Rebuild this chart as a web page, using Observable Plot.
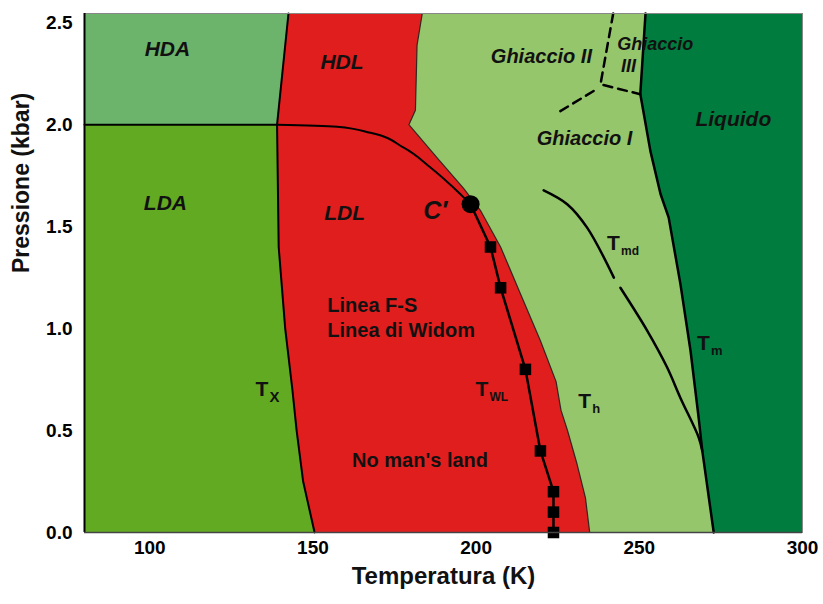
<!DOCTYPE html>
<html><head><meta charset="utf-8">
<script src="https://cdn.jsdelivr.net/npm/d3@7"></script>
<script src="https://cdn.jsdelivr.net/npm/@observablehq/plot@0.6"></script>
<style>body{margin:0;background:#fff;} #chart svg{display:block;}</style>
</head><body><div id="chart"></div>
<script>
// ---- data (Temperature K, Pressure kbar) ----
const xTicks = [100, 150, 200, 250, 300];
const yTicks = [0, 0.5, 1.0, 1.5, 2.0, 2.5];
const T_MIN = 80, T_MAX = 300, P_MAX = 2.545;

// T_X (crystallisation of amorphous ice), bottom -> top
const txLine = [[150.5,0],[147,0.25],[145,0.5],[143.7,0.7],[141.5,1.0],[139.5,1.4],[139,2.0],[142.5,P_MAX]];
// HDA/LDA and HDL/LDL coexistence line, ending at C'
const coexLine = [[80,2.0],[139,2.0],[157.4,1.99],[167.6,1.96],[177.8,1.887],[186,1.79],[195.2,1.659],[198.3,1.61]];
// second critical point C'
const criticalPoint = [[198.3,1.61]];
// Widom line T_WL
const widomLine = [[198.3,1.61],[204.4,1.40],[207.5,1.20],[215.1,0.80],[219.7,0.40],[223.7,0.2],[223.7,0.1],[223.7,0.0]];
const widomPoints = [[204.4,1.40],[207.5,1.20],[215.1,0.80],[219.7,0.40],[223.7,0.2],[223.7,0.1],[223.7,0.0]];
// T_H homogeneous nucleation boundary, top -> bottom
const thLine = [[183.5,P_MAX],[181.9,2.39],[181.4,2.07],[179.4,2.0],[188,1.838],[196.1,1.689],[201.3,1.58],[207.5,1.40],[213.6,1.17],[219.7,0.94],[224.5,0.74],[226,0.6],[228,0.5],[230.9,0.337],[233.5,0.17],[234.8,0]];
// T_M melting line, top -> bottom
const tmLine = [[251.9,P_MAX],[250.3,2.15],[253.4,1.87],[256.5,1.66],[259,1.544],[262.6,1.218],[265.7,0.89],[268.2,0.56],[269.3,0.40],[272.8,0]];
// T_MD maximum density line (two pieces)
const tmdLine1 = [[220.7,1.678],[227.9,1.61],[234,1.495],[242.2,1.25]];
const tmdLine2 = [[244.2,1.20],[252.4,0.99],[258.5,0.81],[262.6,0.66],[268.2,0.466],[269.3,0.40]];
// dashed ice I / II / III boundaries
const iceDash1 = [[242,P_MAX],[238.1,2.198],[250.3,2.149]];
const iceDash2 = [[236,2.165],[225.8,2.066]];

// region labels
const italicLabels = [
  {text:"HDA", T:105.4, P:2.371, size:21},
  {text:"HDL", T:158.9, P:2.304, size:21},
  {text:"LDA", T:104.8, P:1.615, size:21},
  {text:"LDL", T:159.7, P:1.567, size:21},
  {text:"Ghiaccio II", T:220, P:2.332, size:20},
  {text:"Ghiaccio", T:254.9, P:2.396, size:18},
  {text:"III", T:246.7, P:2.288, size:18},
  {text:"Ghiaccio I", T:233.2, P:1.934, size:20},
  {text:"Liquido", T:278.8, P:2.028, size:21}
];
const plainLabels = [
  {text:"Linea F-S", T:154.4, P:1.111},
  {text:"Linea di Widom", T:154.4, P:0.989},
  {text:"No man's land", T:162, P:0.351}
];
const tLabels = [
  {sub:"X", T:132.4, P:0.703, sz:15},
  {sub:"WL", T:199.8, P:0.703, sz:12},
  {sub:"h", T:231.3, P:0.645, sz:13},
  {sub:"md", T:240.1, P:1.42, sz:12},
  {sub:"m", T:267.7, P:0.93, sz:13}
];

const C = {hda:"#6cb46c", lda:"#63aa23", red:"#e01e1e", ice:"#96c66c", liq:"#007d3e"};
const X = d => d[0], Y = d => d[1];
const poly = (pts, fill) => Plot.line(pts, {x: X, y: Y, fill, stroke: "none", curve: "linear"});

const ldaPoly = [[T_MIN,0], ...txLine.filter(p => p[1] <= 2.0), [T_MIN,2.0]];
const hdaPoly = [[T_MIN,2.0], ...txLine.filter(p => p[1] >= 2.0), [T_MIN,P_MAX]];
const redPoly = [[T_MIN,P_MAX], ...thLine, [T_MIN,0]];
const icePoly = [[T_MIN,P_MAX], ...tmLine, [T_MIN,0]];
const liqPoly = [[T_MIN,0],[T_MAX,0],[T_MAX,P_MAX],[T_MIN,P_MAX]];

const font = "'Liberation Sans', Arial, Helvetica, sans-serif";

const chart = Plot.plot({
  width: 823, height: 604,
  marginLeft: 84, marginRight: 21, marginTop: 13, marginBottom: 72,
  style: {fontFamily: font, background: "#fff"},
  x: {domain: [T_MIN, T_MAX]},
  y: {domain: [0, P_MAX]},
  marks: [
    poly(liqPoly, C.liq),
    poly(icePoly, C.ice),
    poly(redPoly, C.red),
    poly(ldaPoly, C.lda),
    poly(hdaPoly, C.hda),
    Plot.line(thLine, {x: X, y: Y, stroke: "#1a1a1a", strokeWidth: 1.2, strokeOpacity: 0.85}),
    Plot.line(txLine, {x: X, y: Y, stroke: "#000", strokeWidth: 2}),
    Plot.line(coexLine, {x: X, y: Y, stroke: "#000", strokeWidth: 2, curve: "monotone-y"}),
    Plot.line(widomLine, {x: X, y: Y, stroke: "#000", strokeWidth: 2.5}),
    Plot.line(tmLine, {x: X, y: Y, stroke: "#000", strokeWidth: 2.5}),
    Plot.line(tmdLine1, {x: X, y: Y, stroke: "#000", strokeWidth: 2.5, curve: "catmull-rom"}),
    Plot.line(tmdLine2, {x: X, y: Y, stroke: "#000", strokeWidth: 2.5, curve: "catmull-rom"}),
    Plot.line(iceDash1, {x: X, y: Y, stroke: "#000", strokeWidth: 2.5, strokeDasharray: "9,6"}),
    Plot.line(iceDash2, {x: X, y: Y, stroke: "#000", strokeWidth: 2.5, strokeDasharray: "9,6"}),
    Plot.dot(widomPoints, {x: X, y: Y, symbol: "square", r: 6.5, fill: "#000", stroke: "none"}),
    Plot.dot(criticalPoint, {x: X, y: Y, r: 9, fill: "#000", stroke: "none"}),
    Plot.text(italicLabels, {x: "T", y: "P", text: "text", fontSize: d => d.size, fontWeight: "bold", fontStyle: "italic", fill: "#111"}),
    Plot.text(["C′"], {x: () => 187.5, y: () => 1.576, fontSize: 25, fontWeight: "bold", fontStyle: "italic", fill: "#111"}),
    Plot.text(plainLabels, {x: "T", y: "P", text: "text", textAnchor: "start", fontSize: 20, fontWeight: "bold", fill: "#111"}),
    Plot.text(tLabels, {x: "T", y: "P", text: () => "T", textAnchor: "start", fontSize: 21, fontWeight: "bold", fill: "#111"}),
    Plot.text(tLabels, {x: "T", y: "P", text: "sub", textAnchor: "start", fontSize: d => d.sz, fontWeight: "bold", dx: 14, dy: 8, fill: "#111"}),
    Plot.frame({stroke: "#888", strokeWidth: 1}),
    Plot.ruleX([T_MIN], {stroke: "#000", strokeWidth: 2}),
    Plot.ruleY([0], {stroke: "#444", strokeWidth: 1.5}),
    Plot.axisX({ticks: xTicks, tickSize: 0, tickPadding: 8, label: null, fontSize: 19, fontWeight: "bold"}),
    Plot.axisY({ticks: yTicks, tickSize: 0, tickPadding: 12, tickFormat: d3.format(".1f"), label: null, fontSize: 19, fontWeight: "bold"}),
    Plot.text(["Temperatura (K)"], {frameAnchor: "bottom", dy: 51, fontSize: 24, fontWeight: "bold", fill: "#111"}),
    Plot.text(["Pressione (kbar)"], {frameAnchor: "left", dx: -63, rotate: -90, fontSize: 23, fontWeight: "bold", fill: "#111"})
  ]
});
document.getElementById("chart").append(chart);
</script></body></html>
